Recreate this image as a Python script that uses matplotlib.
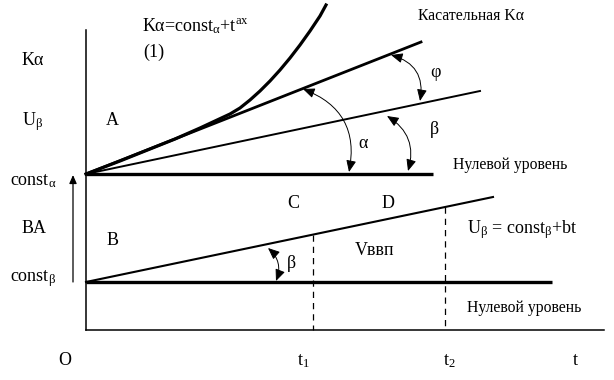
import matplotlib
matplotlib.use("Agg")
import matplotlib.pyplot as plt
from matplotlib.patches import FancyArrowPatch

plt.rcParams['font.family'] = ['Liberation Serif', 'DejaVu Serif']
plt.rcParams['mathtext.fontset'] = 'custom'
plt.rcParams['mathtext.rm'] = 'Liberation Serif'
plt.rcParams['mathtext.it'] = 'Liberation Serif'
plt.rcParams['mathtext.bf'] = 'Liberation Serif:bold'

# ---- diagram data (canvas units, y downward) ----
origin = (86, 330)
axis_top = 30
axis_right = 604
const_alpha_y = 174
const_beta_y = 282
zero_alpha_end = 433
zero_beta_end = 552
curve_x = [86, 120, 150, 175, 200, 215, 230, 240, 250, 260, 270, 280, 290, 300, 310, 320, 326]
curve_y = [174, 161, 149, 139, 128, 121, 114, 108, 100, 91, 81, 70, 58, 45, 31, 16, 5]
tangent_end = (421, 42)
beta_upper_end = (480, 91)
beta_lower_end = (493, 197)
t1_x, t2_x = 313, 445

W, H = 614, 380
fig = plt.figure(figsize=(W / 100, H / 100), dpi=100)
ax = fig.add_axes([0, 0, 1, 1])
ax.set_xlim(0, W)
ax.set_ylim(H, 0)
ax.axis('off')

k = 'black'
# axes
ax.plot([origin[0], origin[0]], [axis_top, origin[1]], color=k, lw=1.1)
ax.plot([origin[0], axis_right], [origin[1], origin[1]], color=k, lw=1.1)
# zero levels
ax.plot([origin[0], zero_alpha_end], [const_alpha_y, const_alpha_y], color=k, lw=2.4, solid_capstyle='butt')
ax.plot([origin[0], zero_beta_end], [const_beta_y, const_beta_y], color=k, lw=2.4, solid_capstyle='butt')
# curve and lines
ax.plot(curve_x, curve_y, color=k, lw=2.3, solid_joinstyle='round')
ax.plot([origin[0], tangent_end[0]], [const_alpha_y, tangent_end[1]], color=k, lw=2.0)
ax.plot([origin[0], beta_upper_end[0]], [const_alpha_y, beta_upper_end[1]], color=k, lw=1.4)
ax.plot([origin[0], beta_lower_end[0]], [const_beta_y, beta_lower_end[1]], color=k, lw=1.5)
# dashed verticals
def line_y(x, p0, p1):
    return p0[1] + (p1[1] - p0[1]) * (x - p0[0]) / (p1[0] - p0[0])
for tx in (t1_x, t2_x):
    yy = line_y(tx, (origin[0], const_beta_y), beta_lower_end)
    ax.plot([tx, tx], [yy, origin[1]], color=k, lw=0.9, dashes=(5, 4))

# up arrow
ax.add_patch(FancyArrowPatch((73, 282), (73, 175), arrowstyle='-|>,head_length=5,head_width=2.2',
                             color=k, lw=0.9, mutation_scale=1, shrinkA=0, shrinkB=0))

# angle arcs
arcs = [((391, 55), (420, 101), -0.45),
        ((303, 89), (349, 172), -0.42),
        ((387, 116), (408, 171), -0.38),
        ((268, 248), (276, 281), -0.35)]
for p0, p1, rad in arcs:
    ax.add_patch(FancyArrowPatch(p0, p1, connectionstyle=f'arc3,rad={rad}',
                                 arrowstyle='<|-|>,head_length=7,head_width=3',
                                 mutation_scale=1, color=k, lw=0.7, shrinkA=0, shrinkB=0))

fs = 13
small = 11.3
texts = [
    (142, 31, r'Kα=const$_{\mathrm{α}}$+t$^{\mathrm{ax}}$', fs),
    (143, 57, '(1)', fs),
    (22, 65, 'Kα', fs),
    (22, 125, r'U$_{\mathrm{β}}$', fs),
    (106, 125, 'A', fs),
    (10, 185, r'const$_{\mathrm{α}}$', fs),
    (418, 20, 'Касательная Kα', small),
    (430, 77, 'φ', fs),
    (430, 134, 'β', fs),
    (358, 148, 'α', fs),
    (453, 169, 'Нулевой уровень', small),
    (287, 208, 'C', fs),
    (382, 208, 'D', fs),
    (22, 233, 'BA', fs),
    (107, 245, 'B', fs),
    (467, 233, r'U$_{\mathrm{β}}$ = const$_{\mathrm{β}}$+bt', fs),
    (355, 255, 'Vввп', fs),
    (287, 268, 'β', fs),
    (10, 281, r'const$_{\mathrm{β}}$', fs),
    (467, 312, 'Нулевой уровень', small),
    (58, 365, 'O', fs),
    (297, 365, r't$_{\mathrm{1}}$', fs),
    (443, 365, r't$_{\mathrm{2}}$', fs),
    (573, 365, 't', fs),
]
for x, y, s, size in texts:
    ax.text(x, y, s, fontsize=size, ha='left', va='baseline', color=k)

fig.savefig('out.png', dpi=100)
